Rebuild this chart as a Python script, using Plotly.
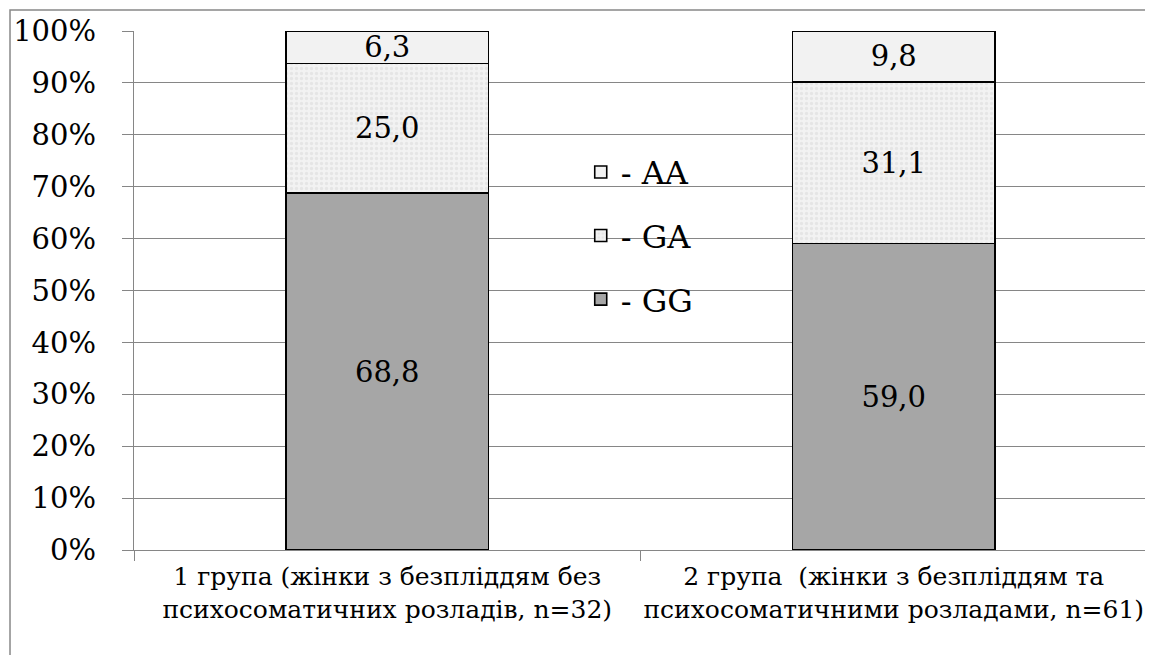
import plotly.graph_objects as go

categories = ["1 група (жінки з безпліддям без<br>психосоматичних розладів, n=32)",
              "2 група  (жінки з безпліддям та<br>психосоматичними розладами, n=61)"]
gg = [68.8, 59.0]
ga = [25.0, 31.1]
aa = [6.3, 9.8]
series_names = ["- GG", "- GA", "- AA"]
tick_vals = [0, 10, 20, 30, 40, 50, 60, 70, 80, 90, 100]
tick_text = [f"{v}%" for v in tick_vals]

FONT = "DejaVu Serif"

def fmt(vals):
    return [f"{v:.1f}".replace(".", ",") for v in vals]

fig = go.Figure()
fig.add_trace(go.Bar(x=categories, y=gg, name=series_names[0], legendgroup="g1", legendrank=3,
                     text=fmt(gg), marker=dict(color="#a6a6a6", line=dict(color="black", width=1.6))))
fig.add_trace(go.Bar(x=categories, y=ga, name=series_names[1], legendgroup="g2", legendrank=2,
                     text=fmt(ga),
                     marker=dict(color="#efefef", line=dict(color="black", width=1.6),
                                 pattern=dict(shape=".", fgcolor="#d8d8d8", bgcolor="#f2f2f2",
                                              size=5, solidity=0.35))))
fig.add_trace(go.Bar(x=categories, y=aa, name=series_names[2], legendgroup="g3", legendrank=1,
                     text=fmt(aa), marker=dict(color="#f2f2f2", line=dict(color="black", width=1.6))))

fig.update_traces(textposition="inside", insidetextanchor="middle", textangle=0,
                  textfont=dict(family=FONT, size=29, color="black"), width=0.4)

fig.update_layout(
    barmode="stack",
    barnorm="percent",
    width=1145, height=647,
    margin=dict(l=126, r=6, t=23, b=105, autoexpand=False),
    paper_bgcolor="white", plot_bgcolor="white",
    font=dict(family=FONT, color="black"),
    uniformtext=dict(minsize=29, mode="show"),
    showlegend=True,
    legend=dict(x=0.441, y=0.781, xanchor="left", yanchor="top",
                traceorder="grouped", tracegroupgap=19,
                font=dict(family=FONT, size=32, color="black"),
                bgcolor="rgba(0,0,0,0)"),
    yaxis=dict(range=[0, 100], tickvals=tick_vals, ticktext=tick_text, automargin=False,
               showgrid=True, gridcolor="#868686", gridwidth=1.3,
               showline=True, linecolor="#868686", linewidth=1.3,
               ticks="outside", ticklen=11, tickcolor="#868686", ticklabelstandoff=20,
               tickfont=dict(family=FONT, size=29, color="black"), zeroline=False),
    xaxis=dict(showline=True, linecolor="#868686", linewidth=1.3, automargin=False,
               ticks="outside", ticklen=10, tickcolor="#868686", tickson="boundaries",
               ticklabelstandoff=4, tickangle=0,
               tickfont=dict(family=FONT, size=25, color="black"), showgrid=False),
    shapes=[dict(type="rect", xref="paper", yref="paper",
                 x0=-0.1224, x1=1.0, y0=-0.25, y1=1.0405,
                 line=dict(color="#888888", width=1.5), layer="below")],
)

fig.write_html("out.html")
